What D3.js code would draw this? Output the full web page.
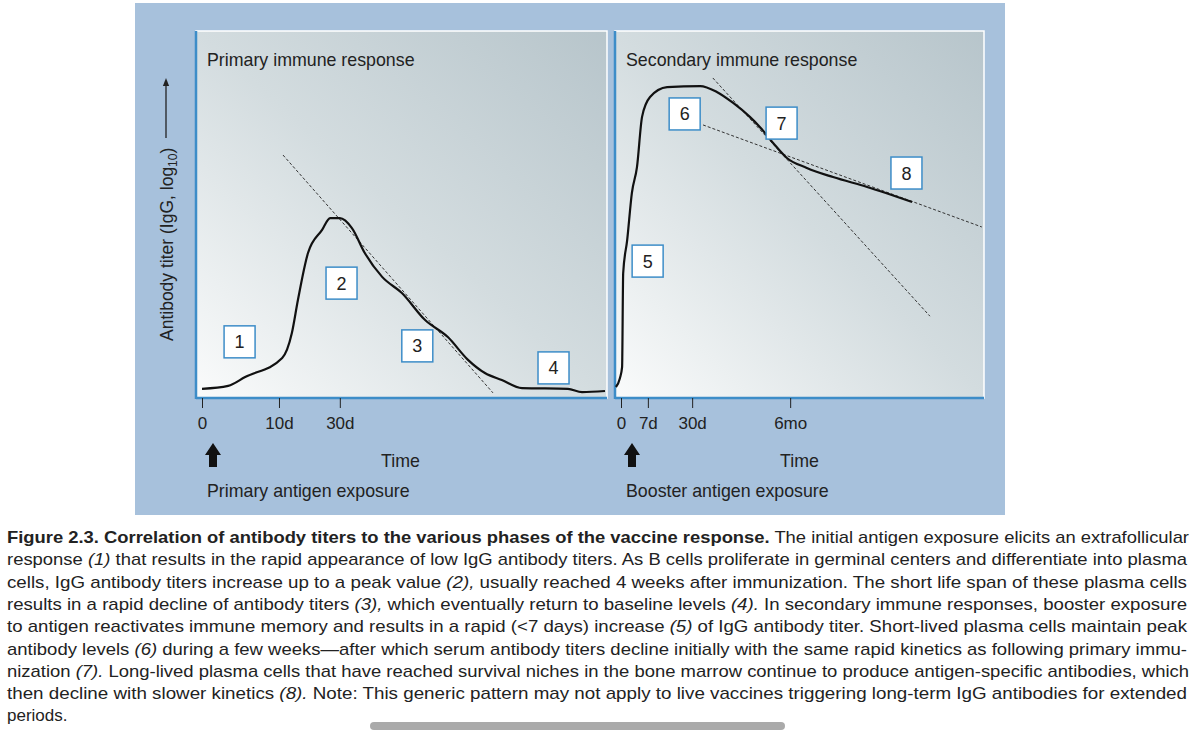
<!DOCTYPE html>
<html><head><meta charset="utf-8">
<script src="https://cdn.jsdelivr.net/npm/d3@7"></script>
<style>body{margin:0;background:#fff}svg{display:block;font-family:"Liberation Sans",Arial,sans-serif}</style>
</head><body><svg id="c" width="1200" height="747"></svg>
<script>
// ---- data (arbitrary time units 0..100, titer units 0..100) ----
const primaryCurve = [[0,2.5],[6.5,3.3],[10.7,5.7],[19.9,10.9],[22.3,17.7],[23.8,26.7],[26.3,39.5],[29.8,45.8],[31.8,49],[34.2,49],[37.2,46.3],[40.4,39.5],[44.7,33],[49.6,28.6],[55.3,21.3],[61,16.6],[66,10.4],[70.2,6.8],[74.4,4.9],[79.4,2.7],[90.8,2.5],[94.3,1.6],[100,1.9]];
const primaryTrend = [[20.1,66.2],[72.2,1.4]];
const primaryTicks = [0,19.1,34.2];
const primaryTickLabels = ["0","10d","30d"];
const primaryBoxes = [["1",9.2,15.3],["2",34.5,31.3],["3",53.3,14.2],["4",87.1,8.2]];
const secondaryCurve = [[-1.4,3],[-0.3,5.4],[0.3,8.4],[0.6,34],[1.7,43],[3,55.9],[4.4,62.9],[5.8,76.6],[8,82],[12.7,84.7],[21.8,85],[26.4,83.4],[30.9,80.4],[35.5,76.6],[38.3,73.8],[41.9,69.5],[45.7,65.4],[51.2,62.7],[58.4,60.2],[67.8,57.5],[80.2,53.4]];
const secondaryTrends = [[[25.3,87.2],[85.1,22.3]],[[22.6,74.4],[99.4,46.6]]];
const secondaryTicks = [0,7.4,19.6,46.6];
const secondaryTickLabels = ["0","7d","30d","6mo"];
const secondaryBoxes = [["5",7.2,37.3],["6",17.4,77.4],["7",44.1,74.9],["8",78.5,61.3]];
const captionLines = [
 [["b","Figure 2.3. Correlation of antibody titers to the various phases of the vaccine response."],["n"," The initial antigen exposure elicits an extrafollicular"]],
 [["n","response "],["i","(1)"],["n"," that results in the rapid appearance of low IgG antibody titers. As B cells proliferate in germinal centers and differentiate into plasma"]],
 [["n","cells, IgG antibody titers increase up to a peak value "],["i","(2),"],["n"," usually reached 4 weeks after immunization. The short life span of these plasma cells"]],
 [["n","results in a rapid decline of antibody titers "],["i","(3),"],["n"," which eventually return to baseline levels "],["i","(4)."],["n"," In secondary immune responses, booster exposure"]],
 [["n","to antigen reactivates immune memory and results in a rapid (<7 days) increase "],["i","(5)"],["n"," of IgG antibody titer. Short-lived plasma cells maintain peak"]],
 [["n","antibody levels "],["i","(6)"],["n"," during a few weeks\u2014after which serum antibody titers decline initially with the same rapid kinetics as following primary immu-"]],
 [["n","nization "],["i","(7)."],["n"," Long-lived plasma cells that have reached survival niches in the bone marrow continue to produce antigen-specific antibodies, which"]],
 [["n","then decline with slower kinetics "],["i","(8)."],["n"," Note: This generic pattern may not apply to live vaccines triggering long-term IgG antibodies for extended"]],
 [["n","periods."]]
];
const captionWidths = [1182,1180,1180,1180,1180,1180,1182,1180,null];

const svg = d3.select("#c");
const defs = svg.append("defs");
const g = defs.append("linearGradient").attr("id","bg").attr("x1","0").attr("y1","1").attr("x2","1").attr("y2","0");
g.append("stop").attr("offset","0").attr("stop-color","#fafbfb");
g.append("stop").attr("offset","0.5").attr("stop-color","#d3dcdf");
g.append("stop").attr("offset","1").attr("stop-color","#b7c5cb");
const ah = defs.append("marker").attr("id","ah").attr("viewBox","0 0 10 10").attr("refX","5").attr("refY","5")
 .attr("markerWidth",6).attr("markerHeight",8).attr("orient","auto");
ah.append("path").attr("d","M0,1L10,5L0,9z").attr("fill","#222");

svg.append("rect").attr("x",135).attr("y",3).attr("width",870).attr("height",512).attr("fill","#a7c1dc");

const y = d3.scaleLinear().domain([0,100]).range([398,31]);
function panel(x0,x1,xr,curve,trends,ticks,labels,boxes,title,timeX,expo){
  const x = d3.scaleLinear().domain([0,100]).range(xr);
  svg.append("rect").attr("x",x0).attr("y",31).attr("width",x1-x0).attr("height",367)
    .attr("fill","url(#bg)").attr("stroke","#fff").attr("stroke-width",1.5);
  svg.append("line").attr("x1",x0).attr("x2",x0).attr("y1",31).attr("y2",399).attr("stroke","#3d8dc8").attr("stroke-width",2.5);
  const ax = d3.axisBottom(x).tickValues(ticks).tickFormat((d,i)=>labels[i]).tickSize(10).tickPadding(9);
  const ag = svg.append("g").attr("transform","translate(0,398)").call(ax);
  ag.attr("font-size",17).attr("font-family","Liberation Sans, Arial");
  ag.select(".domain").attr("d",`M${x0},0H${x1}`).attr("stroke","#3d8dc8").attr("stroke-width",2.5);
  ag.selectAll(".tick line").attr("stroke","#222");
  ag.selectAll(".tick text").attr("fill","#222");
  svg.append("text").attr("x",x0+11).attr("y",66).attr("font-size",17.8).attr("fill","#222").text(title);
  trends.forEach(t=>svg.append("path").attr("d",d3.line().x(d=>x(d[0])).y(d=>y(d[1]))(t))
    .attr("fill","none").attr("stroke","#333").attr("stroke-width",1).attr("stroke-dasharray","3,2"));
  svg.append("path").attr("d",d3.line().curve(d3.curveMonotoneX).x(d=>x(d[0])).y(d=>y(d[1]))(curve))
    .attr("fill","none").attr("stroke","#111").attr("stroke-width",2.2);
  boxes.forEach(b=>{
    svg.append("rect").attr("x",x(b[1])-15).attr("y",y(b[2])-16).attr("width",31).attr("height",32)
      .attr("fill","#fff").attr("stroke","#3d8dc8").attr("stroke-width",1.5);
    svg.append("text").attr("x",x(b[1])+0.5).attr("y",y(b[2])+6.5).attr("text-anchor","middle").attr("font-size",18).attr("fill","#222").text(b[0]);
  });
  const axp = x(ticks[0])+11;
  svg.append("path").attr("d",`M${axp-4},467V455H${axp-8}L${axp},443L${axp+8},455H${axp+4}V467Z`).attr("fill","#111");
  svg.append("text").attr("x",timeX).attr("y",467).attr("font-size",17.8).attr("fill","#222").text("Time");
  svg.append("text").attr("x",x0+11).attr("y",497).attr("font-size",17.8).attr("fill","#222").text(expo);
}
panel(196,607,[202,605],primaryCurve,[primaryTrend],primaryTicks,primaryTickLabels,primaryBoxes,"Primary immune response",381,"Primary antigen exposure");
panel(615,984,[621,984],secondaryCurve,secondaryTrends,secondaryTicks,secondaryTickLabels,secondaryBoxes,"Secondary immune response",780,"Booster antigen exposure");

// y label
const yl = svg.append("text").attr("transform","translate(173,341) rotate(-90)").attr("font-size",17.5).attr("fill","#222");
yl.append("tspan").text("Antibody titer (IgG, log");
yl.append("tspan").attr("font-size",12).attr("dy",4).text("10");
yl.append("tspan").attr("dy",-4).text(")");
svg.append("line").attr("x1",166).attr("x2",166).attr("y1",138).attr("y2",82).attr("stroke","#222").attr("stroke-width",1.3).attr("marker-end","url(#ah)");

// caption
captionLines.forEach((ln,i)=>{
  const t = svg.append("text").attr("x",7).attr("y",543+i*22.3).attr("font-size",17).attr("fill","#222");
  if(captionWidths[i]) t.attr("textLength",captionWidths[i]).attr("lengthAdjust","spacingAndGlyphs");
  ln.forEach(s=>{const sp=t.append("tspan").text(s[1]);
    if(s[0]==="b") sp.attr("font-weight","bold"); if(s[0]==="i") sp.attr("font-style","italic");});
});
svg.append("rect").attr("x",370).attr("y",722).attr("width",415).attr("height",8).attr("rx",4).attr("fill","#aaa");
</script></body></html>
